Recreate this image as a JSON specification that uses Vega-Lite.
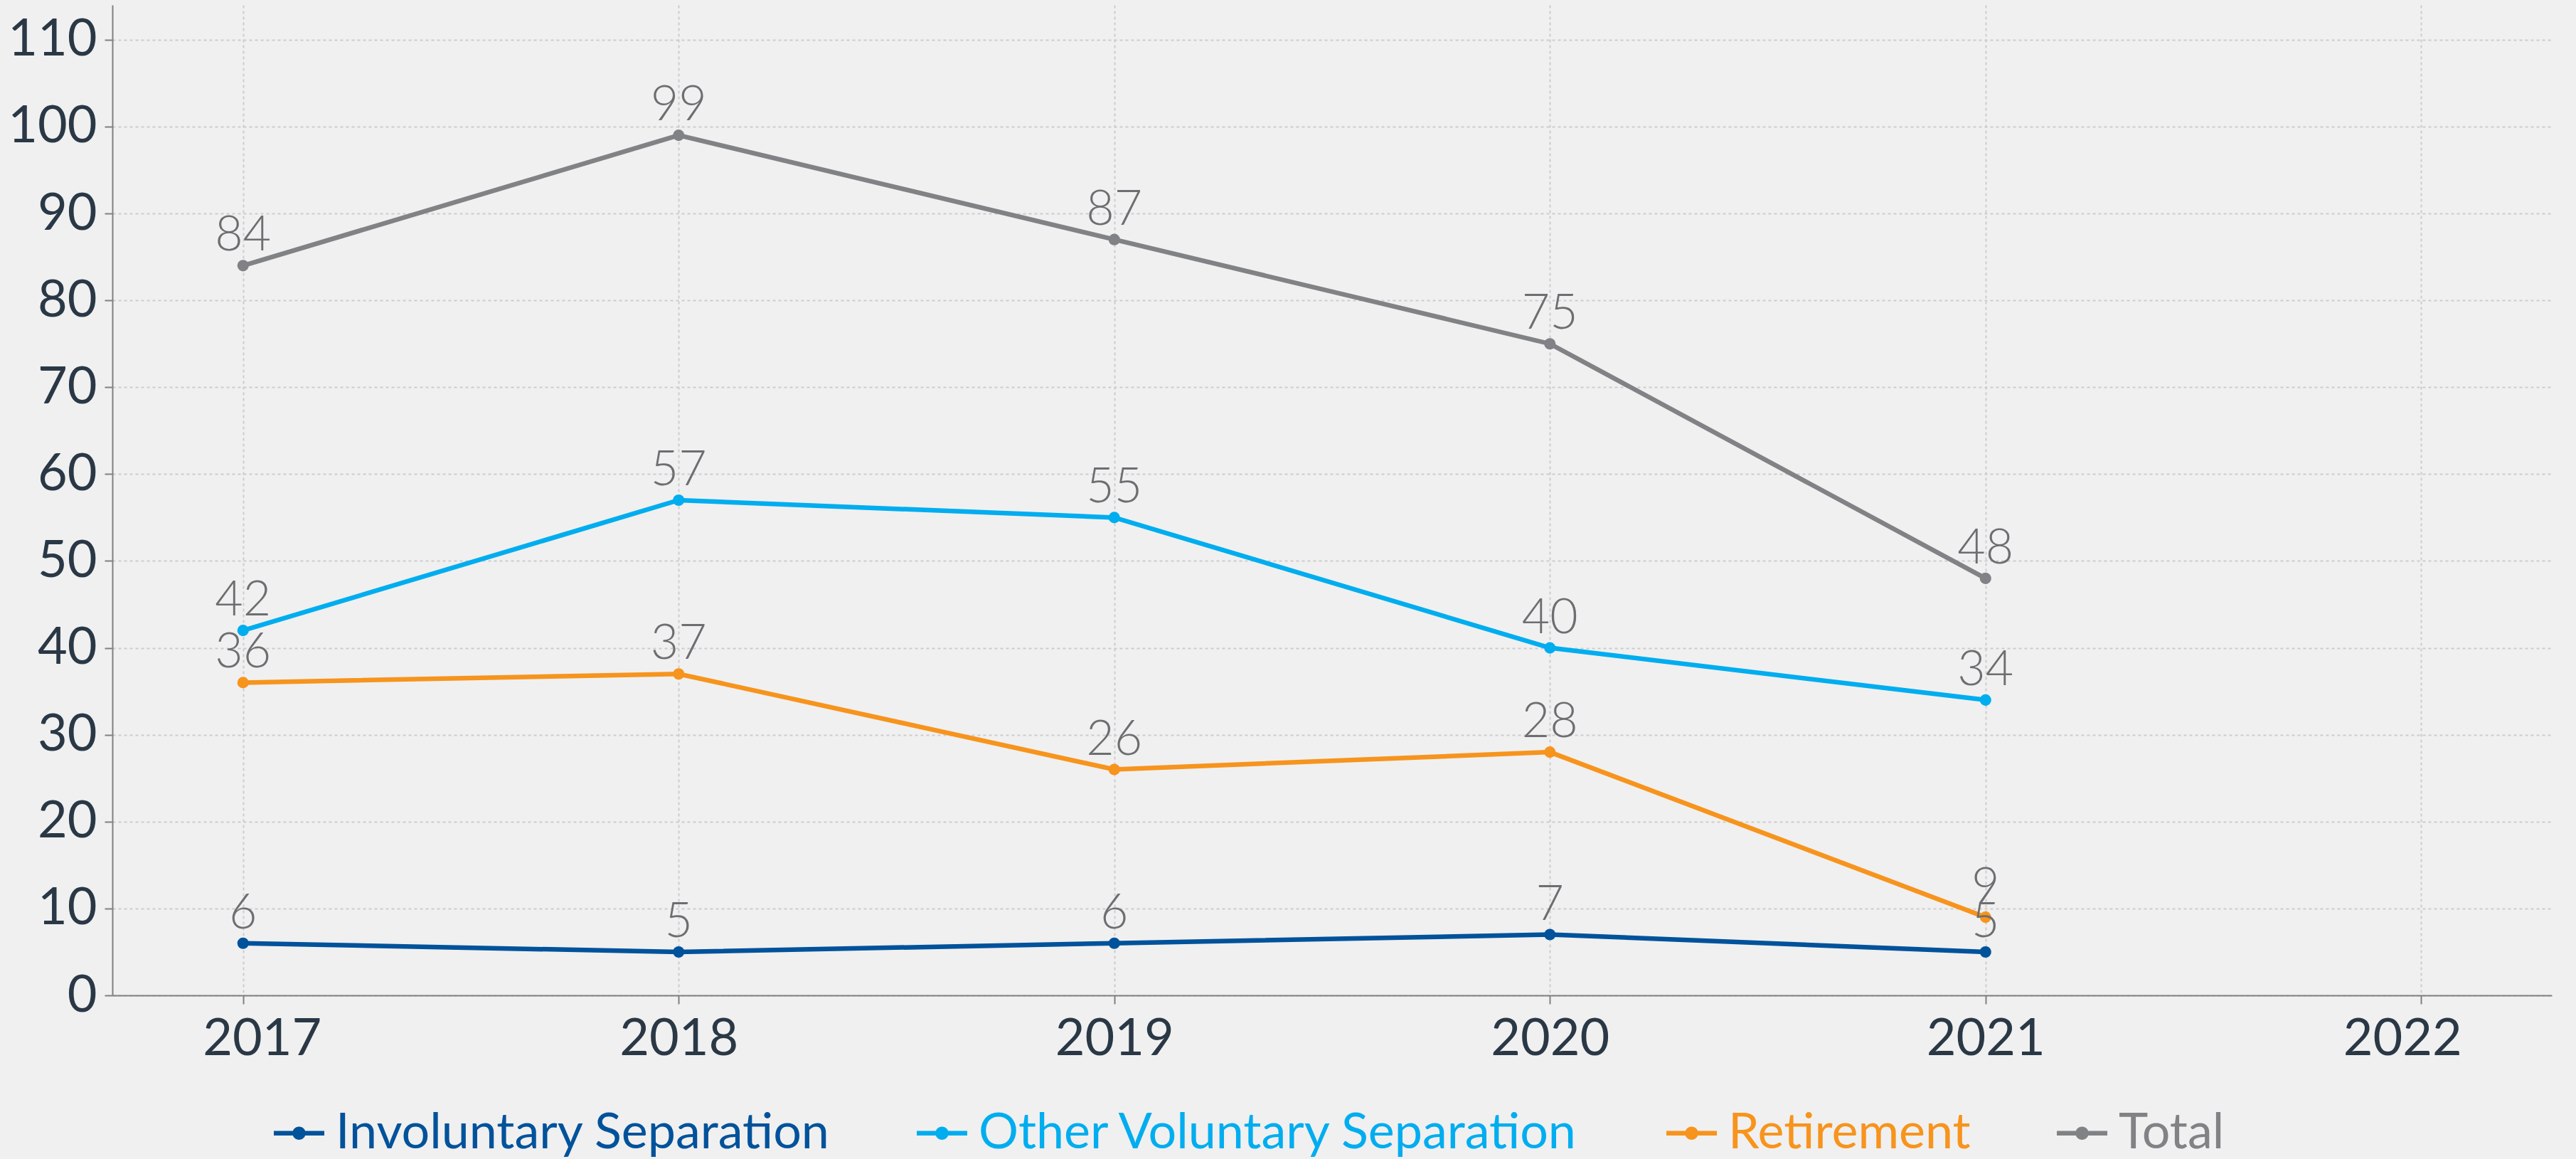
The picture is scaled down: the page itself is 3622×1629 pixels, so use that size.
{
  "$schema": "https://vega.github.io/schema/vega-lite/v6.json",
  "autosize": {"type": "none"},
  "width": 3430,
  "height": 1392,
  "padding": {"left": 158, "top": 7, "right": 34, "bottom": 230},
  "background": "#f0f0f0",
  "config": {
    "view": {"stroke": null},
    "axis": {
      "labelFont": "Lato",
      "labelFontSize": 72,
      "labelColor": "#2a3846",
      "domainColor": "#808080",
      "domainWidth": 2,
      "tickColor": "#808080",
      "tickWidth": 2,
      "gridColor": "#cccccc",
      "gridWidth": 2,
      "title": null
    }
  },
  "data": {
    "values": [
      {"year": 2017, "series": "Involuntary Separation", "value": 6},
      {"year": 2018, "series": "Involuntary Separation", "value": 5},
      {"year": 2019, "series": "Involuntary Separation", "value": 6},
      {"year": 2020, "series": "Involuntary Separation", "value": 7},
      {"year": 2021, "series": "Involuntary Separation", "value": 5},
      {"year": 2017, "series": "Other Voluntary Separation", "value": 42},
      {"year": 2018, "series": "Other Voluntary Separation", "value": 57},
      {"year": 2019, "series": "Other Voluntary Separation", "value": 55},
      {"year": 2020, "series": "Other Voluntary Separation", "value": 40},
      {"year": 2021, "series": "Other Voluntary Separation", "value": 34},
      {"year": 2017, "series": "Retirement", "value": 36},
      {"year": 2018, "series": "Retirement", "value": 37},
      {"year": 2019, "series": "Retirement", "value": 26},
      {"year": 2020, "series": "Retirement", "value": 28},
      {"year": 2021, "series": "Retirement", "value": 9},
      {"year": 2017, "series": "Total", "value": 84},
      {"year": 2018, "series": "Total", "value": 99},
      {"year": 2019, "series": "Total", "value": 87},
      {"year": 2020, "series": "Total", "value": 75},
      {"year": 2021, "series": "Total", "value": 48}
    ]
  },
  "encoding": {
    "x": {
      "field": "year", "type": "quantitative",
      "scale": {"domain": [2016.7, 2022.3], "nice": false, "zero": false},
      "axis": {"values": [2017, 2018, 2019, 2020, 2021, 2022], "format": "d", "tickSize": 12, "labelPadding": 14, "gridDash": [4, 4], "labelFlush": 200, "labelFlushOffset": 57, "labelOverlap": false, "labelBound": false}
    },
    "y": {
      "field": "value", "type": "quantitative",
      "scale": {"domain": [0, 114], "nice": false},
      "axis": {"values": [0, 10, 20, 30, 40, 50, 60, 70, 80, 90, 100, 110], "tickSize": 11, "labelPadding": 11, "gridDash": [4, 4], "labelOverlap": false, "labelBound": false}
    }
  },
  "layer": [
    {
      "mark": {"type": "line", "strokeWidth": 6.5},
      "encoding": {
        "color": {
          "field": "series", "type": "nominal",
          "scale": {"domain": ["Involuntary Separation", "Other Voluntary Separation", "Retirement", "Total"], "range": ["#00529b", "#00adef", "#f7941d", "#818285"]},
          "legend": {
            "orient": "none", "legendX": 227, "legendY": 1550, "direction": "horizontal",
            "title": null, "padding": 0,
            "labelFont": "Lato", "labelFontSize": 70, "labelLimit": 3000,
            "labelOffset": 16, "columnPadding": 121,
            "symbolType": "M-1,-0.09H1V0.09H-1Z M0.26,0A0.26,0.26 0 1,1 -0.26,0A0.26,0.26 0 1,1 0.26,0Z",
            "symbolSize": 5041, "symbolStrokeWidth": 0,
            "encode": {
              "labels": {"update": {"fill": {"scale": "color", "field": "value"}}},
              "symbols": {"update": {"fill": {"scale": "color", "field": "value"}, "fillOpacity": {"value": 1}, "strokeWidth": {"value": 0}}}
            }
          }
        }
      }
    },
    {
      "mark": {"type": "point", "filled": true, "size": 260, "opacity": 1},
      "encoding": {
        "color": {"field": "series", "type": "nominal"}
      }
    },
    {
      "mark": {"type": "text", "font": "Lato", "fontWeight": 300, "fontSize": 68, "color": "#6d6e71", "dy": -21, "baseline": "alphabetic", "align": "center"},
      "encoding": {
        "text": {"field": "value", "type": "quantitative"}
      }
    }
  ]
}
